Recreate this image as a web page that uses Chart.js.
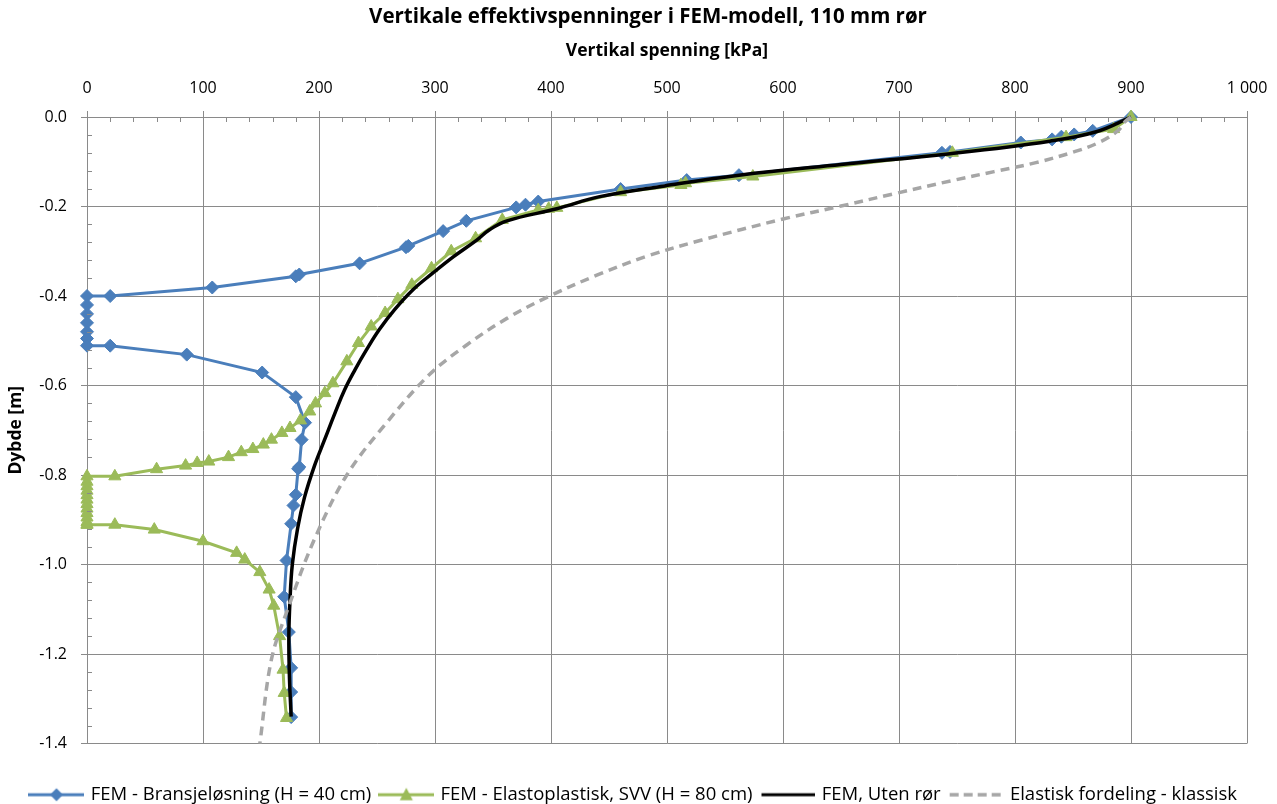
<!DOCTYPE html>
<html>
<head>
<meta charset="utf-8">
<script src="https://cdn.jsdelivr.net/npm/chart.js@4.4.1/dist/chart.umd.min.js"></script>
<style>
  html, body { margin: 0; padding: 0; background: #ffffff; }
  #wrap { width: 1277px; height: 804px; position: relative; overflow: hidden; }
</style>
</head>
<body>
<div id="wrap"><canvas id="c" width="1277" height="804"></canvas></div>
<script>
// ---- Data ----
const chartTitle = "Vertikale effektivspenninger i FEM-modell, 110 mm rør";
const xAxisTitle = "Vertikal spenning [kPa]";
const yAxisTitle = "Dybde [m]";
const seriesNames = [
  "FEM - Bransjeløsning (H = 40 cm)",
  "FEM - Elastoplastisk, SVV (H = 80 cm)",
  "FEM, Uten rør",
  "Elastisk fordeling - klassisk"
];
const xTicks = [0, 100, 200, 300, 400, 500, 600, 700, 800, 900, 1000];
const yTicks = [0.0, -0.2, -0.4, -0.6, -0.8, -1.0, -1.2, -1.4];

const blueStress = [900,867,851,840,832,805,744,737,562,517,460,389,378,370,327,307,277,275,235,183,
                    180,108,20,0,0,0,0,0,0,0,20,86,151,180,188,185,183,182,180,178,
                    176,172,170,174,176,176,176];
const blueDepth  = [0,-0.031,-0.039,-0.044,-0.05,-0.057,-0.078,-0.08,-0.13,-0.141,-0.161,-0.189,-0.196,-0.202,-0.232,-0.255,-0.288,-0.291,-0.327,-0.352,
                    -0.356,-0.381,-0.4,-0.4,-0.42,-0.44,-0.46,-0.48,-0.495,-0.511,-0.511,-0.531,-0.571,-0.626,-0.683,-0.721,-0.782,-0.786,-0.844,-0.868,
                    -0.909,-0.991,-1.072,-1.151,-1.231,-1.285,-1.341];

const greenStress = [900,885,844,746,574,516,512,460,405,398,389,358,335,314,297,280,268,257,245,234,
                     224,212,205,197,192,184,175,168,159,152,143,133,122,105,95,85,60,24,0,0,
                     0,0,0,0,0,0,0,0,0,0,0,24,58,100,129,136,149,157,161,166,
                     169,170,172];
const greenDepth  = [0,-0.027,-0.045,-0.08,-0.133,-0.148,-0.152,-0.168,-0.203,-0.205,-0.208,-0.23,-0.271,-0.3,-0.338,-0.375,-0.407,-0.438,-0.468,-0.505,
                     -0.546,-0.595,-0.617,-0.64,-0.658,-0.678,-0.695,-0.706,-0.721,-0.732,-0.742,-0.749,-0.76,-0.77,-0.773,-0.779,-0.787,-0.803,-0.803,-0.815,
                     -0.825,-0.835,-0.845,-0.855,-0.865,-0.875,-0.885,-0.895,-0.905,-0.911,-0.911,-0.911,-0.922,-0.948,-0.974,-0.989,-1.017,-1.056,-1.092,-1.16,
                     -1.235,-1.287,-1.343];

const blackStress = [900,870,830,744,650,562,498,442,405,362,347,336,316,298,281,265,252,241,231,222,214,205,196,187.5,181.5,177,175,174,174.5,176];
const blackDepth  = [0,-0.033,-0.054,-0.082,-0.106,-0.13,-0.154,-0.178,-0.205,-0.232,-0.252,-0.275,-0.312,-0.349,-0.386,-0.431,-0.475,-0.52,-0.565,-0.61,-0.66,-0.72,-0.78,-0.85,-0.92,-1.0,-1.08,-1.16,-1.25,-1.34];

const grayStress = [900,895,889,874,852,818,782,746,695,650,600,530,484,440,398,362,327,295,258,224,196,174,159,149];
const grayDepth  = [0,-0.01,-0.03,-0.055,-0.077,-0.102,-0.122,-0.142,-0.172,-0.199,-0.228,-0.275,-0.31,-0.353,-0.401,-0.45,-0.51,-0.576,-0.684,-0.8,-0.944,-1.093,-1.212,-1.4];

// ---- Styles ----
const FONT = "'Open Sans'";
const BLUE = "#4a7ebb";
const GREEN = "#9bbb59";
const BLACK = "#000000";
const GRAY = "#a6a6a6";
const GRID = "#8a8a8a";

function pts(xs, ys) { return xs.map((x, i) => ({ x: x, y: ys[i] })); }

function swatch(kind) {
  const c = document.createElement('canvas');
  c.width = 56; c.height = 16;
  const g = c.getContext('2d');
  g.lineCap = 'butt';
  if (kind === 0) {
    g.strokeStyle = BLUE; g.lineWidth = 3;
    g.beginPath(); g.moveTo(0, 8); g.lineTo(56, 8); g.stroke();
    g.fillStyle = BLUE; g.beginPath();
    g.moveTo(28, 1.5); g.lineTo(34.5, 8); g.lineTo(28, 14.5); g.lineTo(21.5, 8); g.closePath(); g.fill();
  } else if (kind === 1) {
    g.strokeStyle = GREEN; g.lineWidth = 3;
    g.beginPath(); g.moveTo(0, 8); g.lineTo(56, 8); g.stroke();
    g.fillStyle = GREEN; g.beginPath();
    g.moveTo(28, 1); g.lineTo(34.5, 13.5); g.lineTo(21.5, 13.5); g.closePath(); g.fill();
  } else if (kind === 2) {
    g.strokeStyle = BLACK; g.lineWidth = 3;
    g.beginPath(); g.moveTo(2, 8); g.lineTo(56, 8); g.stroke();
  } else {
    g.strokeStyle = GRAY; g.lineWidth = 3.5; g.setLineDash([9, 5]);
    g.beginPath(); g.moveTo(2, 8); g.lineTo(56, 8); g.stroke();
  }
  return c;
}
const swatches = [swatch(0), swatch(1), swatch(2), swatch(3)];

const minorTicks = {
  id: 'minorTicks',
  afterDraw(chart) {
    const ctx = chart.ctx, xs = chart.scales.x, ys = chart.scales.y;
    const top = chart.chartArea.top, left = chart.chartArea.left;
    ctx.save();
    ctx.strokeStyle = GRID; ctx.lineWidth = 1;
    ctx.beginPath();
    for (let v = 20; v < 1000; v += 20) {
      if (v % 100 === 0) continue;
      const px = Math.round(xs.getPixelForValue(v)) + 0.5;
      ctx.moveTo(px, top); ctx.lineTo(px, top + 5);
    }
    for (let k = 1; k < 35; k++) {
      if (k % 5 === 0) continue;
      const py = Math.round(ys.getPixelForValue(-k * 0.04)) + 0.5;
      ctx.moveTo(left, py); ctx.lineTo(left + 5, py);
    }
    ctx.stroke();
    // chart title (positioned like the reference, slightly left of centre)
    ctx.fillStyle = '#000';
    ctx.font = "bold 20.5px 'Open Sans'";
    ctx.textAlign = 'center';
    ctx.textBaseline = 'middle';
    ctx.fillText(chartTitle, 648, 17);
    ctx.restore();
  }
};

Chart.defaults.font.family = FONT;
Chart.defaults.color = "#000000";

new Chart(document.getElementById('c'), {
  type: 'scatter',
  data: {
    datasets: [
      { label: seriesNames[0], data: pts(blueStress, blueDepth), showLine: true, borderColor: BLUE, backgroundColor: BLUE,
        borderWidth: 3, pointStyle: 'rectRot', pointRadius: 6.5, pointBorderWidth: 1, tension: 0, order: 3, clip: false },
      { label: seriesNames[1], data: pts(greenStress, greenDepth), showLine: true, borderColor: GREEN, backgroundColor: GREEN,
        borderWidth: 3, pointStyle: 'triangle', pointRadius: 7, pointBorderWidth: 1, tension: 0, order: 2, clip: false },
      { label: seriesNames[2], data: pts(blackStress, blackDepth), showLine: true, borderColor: BLACK, backgroundColor: BLACK,
        borderWidth: 3.5, pointRadius: 0, tension: 0.4, order: 1, clip: false },
      { label: seriesNames[3], data: pts(grayStress, grayDepth), showLine: true, borderColor: GRAY, backgroundColor: GRAY,
        borderWidth: 3.5, borderDash: [9, 6], pointRadius: 0, tension: 0.35, order: 0, clip: false }
    ]
  },
  options: {
    responsive: false,
    animation: false,
    layout: { padding: { left: 0, right: 30, top: 33, bottom: -10 } },
    scales: {
      x: {
        type: 'linear', position: 'top', min: 0, max: 1000,
        afterBuildTicks(s) { s.ticks = xTicks.map(v => ({ value: v })); },
        afterFit(s) { s.height = 84; s.paddingRight = 0; s.paddingLeft = 0; },
        ticks: {
          padding: 13, font: { size: 16 },
          callback(v) { return v >= 1000 ? String(v).replace(/\B(?=(\d{3})+(?!\d))/g, ' ') : String(v); }
        },
        grid: { color: GRID, lineWidth: 1, tickLength: 6, drawTicks: true },
        border: { color: GRID, width: 1 },
        title: { display: true, text: xAxisTitle, font: { size: 17.5, weight: 'bold' }, padding: { top: 8, bottom: 0 } }
      },
      y: {
        type: 'linear', position: 'left', min: -1.4, max: 0,
        afterBuildTicks(s) { s.ticks = yTicks.map(v => ({ value: v })); },
        afterFit(s) { s.width = 87; },
        ticks: { padding: 14, font: { size: 16 }, callback(v) { return Number(v).toFixed(1); } },
        grid: { color: GRID, lineWidth: 1, tickLength: 6, drawTicks: true },
        border: { color: GRID, width: 1 },
        title: { display: true, text: yAxisTitle, font: { size: 17.5, weight: 'bold' }, padding: { top: 6, bottom: 0 } }
      },
      gap: {
        type: 'linear', position: 'bottom', display: true,
        grid: { display: false }, border: { display: false }, ticks: { display: false },
        afterFit(s) { s.height = 32; }
      }
    },
    plugins: {
      title: { display: false },
      legend: {
        position: 'bottom',
        align: 'end',
        labels: {
          usePointStyle: true, pointStyleWidth: 50, boxHeight: 16, padding: 10,
          font: { size: 18.5 }, color: '#000',
          generateLabels(chart) {
            const items = Chart.defaults.plugins.legend.labels.generateLabels(chart);
            items.sort((a, b) => a.datasetIndex - b.datasetIndex);
            items.forEach(it => { it.pointStyle = swatches[it.datasetIndex]; it.lineWidth = 0; });
            return items;
          }
        }
      },
      tooltip: { enabled: false }
    }
  },
  plugins: [minorTicks]
});
</script>
</body>
</html>
